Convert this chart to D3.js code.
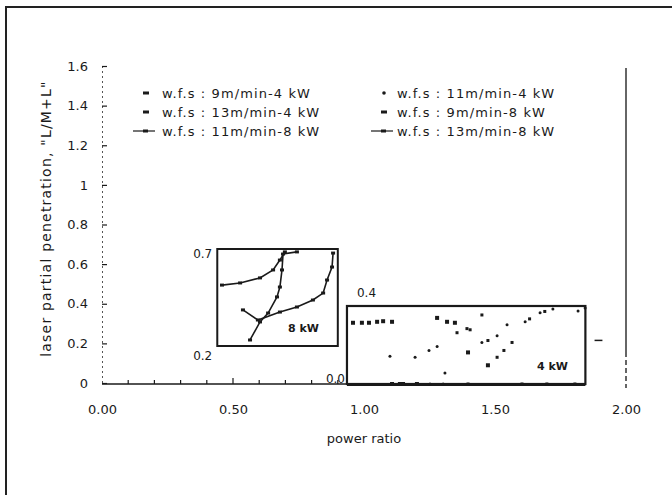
<!DOCTYPE html>
<html>
<head>
<meta charset="utf-8">
<script src="https://cdn.jsdelivr.net/npm/d3@7"></script>
<style>
  body { margin: 0; background: #fff; }
  svg { display: block; }
  text { font-family: "DejaVu Sans", sans-serif; fill: #1a1a1a; }
</style>
</head>
<body>
<svg id="chart" width="672" height="495"></svg>
<script>
// axis ticks
const yTicks = [0, 0.2, 0.4, 0.6, 0.8, 1, 1.2, 1.4, 1.6];
const yTickLabels = ["0", "0.2", "0.4", "0.6", "0.8", "1", "1.2", "1.4", "1.6"];
const xTicks = [0, 0.5, 1, 1.5, 2];
const xTickLabels = ["0.00", "0.50", "1.00", "1.50", "2.00"];

const legendLabels = [
    "w.f.s : 9m/min-4 kW", "w.f.s : 11m/min-4 kW",
    "w.f.s : 13m/min-4 kW", "w.f.s : 9m/min-8 kW",
    "w.f.s : 11m/min-8 kW", "w.f.s : 13m/min-8 kW"
];

// inset ranges (power ratio / penetration)
const inset8X = [0.44, 0.90];
const inset8Y = [0.2, 0.7];
const inset4X = [0.935, 1.845];
const inset4Y = [0, 0.4];

// 4 kW series: [power ratio, L/(M+L)]
const wfs9_4kW = [
    [0.958, 0.314], [0.992, 0.314], [1.019, 0.314], [1.050, 0.319], [1.073, 0.322],
    [1.107, 0.319], [1.279, 0.339], [1.317, 0.319], [1.347, 0.314], [1.397, 0.162],
    [1.473, 0.096], [1.107, 0.0], [1.137, 0.0], [1.149, 0.0], [1.202, 0.0]
];
const wfs11_4kW = [
    [1.099, 0.142], [1.195, 0.137], [1.248, 0.172], [1.279, 0.192], [1.450, 0.213],
    [1.508, 0.248], [1.546, 0.304], [1.615, 0.319], [1.672, 0.365], [1.721, 0.385],
    [1.817, 0.375], [1.844, 0.390], [1.309, 0.056], [1.252, 0.0], [1.302, 0.0]
];
const wfs13_4kW = [
    [1.355, 0.263], [1.393, 0.284], [1.405, 0.278], [1.473, 0.223], [1.508, 0.137],
    [1.534, 0.172], [1.565, 0.213], [1.450, 0.354], [1.632, 0.334], [1.690, 0.372],
    [1.397, 0.0], [1.603, 0.0], [1.698, 0.0], [1.805, 0.0]
];

// 8 kW series
const wfs9_8kW = [
    [0.458, 0.514], [0.527, 0.525], [0.603, 0.551], [0.653, 0.592], [0.679, 0.643], [0.698, 0.685]
];
const wfs11_8kW = [
    [0.565, 0.231], [0.603, 0.324], [0.634, 0.370], [0.668, 0.453], [0.679, 0.504],
    [0.687, 0.592], [0.691, 0.674], [0.744, 0.685]
];
const wfs13_8kW = [
    [0.538, 0.386], [0.595, 0.334], [0.679, 0.375], [0.744, 0.401], [0.805, 0.437],
    [0.844, 0.473], [0.859, 0.540], [0.878, 0.607], [0.882, 0.679]
];

const svg = d3.select("#chart");
const ink = "#1a1a1a";

const x = d3.scaleLinear().domain([0, 2]).range([102, 626]);
const y = d3.scaleLinear().domain([0, 1.6]).range([383, 66]);

// outer frame (only top and left edge are in the picture)
svg.append("path")
    .attr("d", "M6,495 V7 H672")
    .attr("fill", "none")
    .attr("stroke", "#222")
    .attr("stroke-width", 2);

// y axis
const yAxis = svg.append("g")
    .attr("transform", `translate(${x(0)},0)`)
    .call(d3.axisLeft(y).tickValues(yTicks)
        .tickFormat((d, i) => yTickLabels[i])
        .tickSize(-5).tickPadding(14));
yAxis.select(".domain").attr("stroke", "#555").attr("stroke-dasharray", "2,3");
yAxis.selectAll(".tick line").attr("stroke", ink).attr("stroke-width", 1.2);
yAxis.selectAll(".tick text")
    .style("font-family", "DejaVu Sans, sans-serif")
    .style("font-size", "13px").attr("fill", ink);

// x axis labels
const xAxis = svg.append("g")
    .attr("transform", `translate(0,${y(0)})`)
    .call(d3.axisBottom(x).tickValues(xTicks)
        .tickFormat((d, i) => xTickLabels[i])
        .tickSize(0).tickPadding(22));
xAxis.select(".domain").remove();
xAxis.selectAll(".tick text")
    .style("font-family", "DejaVu Sans, sans-serif")
    .style("font-size", "13px").attr("fill", ink);

// baseline up to the 4 kW inset and its minor ticks
svg.append("line")
    .attr("x1", x(0)).attr("x2", x(inset4X[0]))
    .attr("y1", y(0) + 1).attr("y2", y(0) + 1)
    .attr("stroke", ink).attr("stroke-width", 1.5);
svg.append("g").selectAll("line")
    .data(x.ticks(20).filter(d => d > 0 && d < inset4X[0]))
    .join("line")
    .attr("x1", d => x(d)).attr("x2", d => x(d))
    .attr("y1", y(0) + 1).attr("y2", d => y(0) + (d === 0.5 ? -5 : -3))
    .attr("stroke", ink).attr("stroke-width", 1.2);

// right-hand frame line at 2.00
svg.append("line")
    .attr("x1", x(2)).attr("x2", x(2))
    .attr("y1", y(1.6) + 2).attr("y2", 352)
    .attr("stroke", "#333").attr("stroke-width", 1.5);
svg.append("line")
    .attr("x1", x(2)).attr("x2", x(2))
    .attr("y1", 352).attr("y2", 388)
    .attr("stroke", "#333").attr("stroke-width", 1.5)
    .attr("stroke-dasharray", "5,3");
svg.append("line")
    .attr("x1", x(1.88)).attr("x2", x(1.91))
    .attr("y1", y(0.215)).attr("y2", y(0.215))
    .attr("stroke", ink).attr("stroke-width", 1.5);

// axis titles
svg.append("text")
    .attr("transform", `translate(51,${y(0.83)}) rotate(-90)`)
    .attr("text-anchor", "middle")
    .style("font-size", "14px")
    .style("letter-spacing", "1.2px")
    .text("laser partial penetration, \"L/M+L\"");
svg.append("text")
    .attr("x", x(1)).attr("y", 443)
    .attr("text-anchor", "middle")
    .style("font-size", "13px")
    .text("power ratio");

// legend
const legendRows = [93, 112, 131];
const legendCols = [{ mark: 146, text: 162 }, { mark: 384, text: 397 }];
const legend = svg.append("g");
legendLabels.forEach((label, i) => {
    const col = legendCols[i % 2];
    const ry = legendRows[Math.floor(i / 2)];
    const g = legend.append("g");
    if (i < 4) {
        if (i === 1) {
            g.append("circle").attr("cx", col.mark).attr("cy", ry).attr("r", 1.8).attr("fill", ink);
        } else {
            g.append("rect").attr("x", col.mark - 3).attr("y", ry - 1.5)
                .attr("width", 6).attr("height", 3).attr("fill", ink);
        }
    } else {
        g.append("line").attr("x1", col.mark - 13).attr("x2", col.mark + 9)
            .attr("y1", ry).attr("y2", ry).attr("stroke", ink).attr("stroke-width", 1.2);
        g.append("rect").attr("x", col.mark - 3).attr("y", ry - 1.5)
            .attr("width", 5).attr("height", 3).attr("fill", ink);
    }
    g.append("text").attr("x", col.text).attr("y", ry + 5)
        .style("font-size", "13px")
        .style("letter-spacing", "1.1px")
        .text(label);
});

// ---- 8 kW inset ----
const x8 = x;
const y8 = d3.scaleLinear().domain(inset8Y).range([346, 249]);
svg.append("rect")
    .attr("x", x8(inset8X[0])).attr("y", y8(inset8Y[1]))
    .attr("width", x8(inset8X[1]) - x8(inset8X[0]))
    .attr("height", y8(inset8Y[0]) - y8(inset8Y[1]))
    .attr("fill", "#fff").attr("stroke", ink).attr("stroke-width", 2);
svg.append("text").attr("x", x8(inset8X[0]) - 5).attr("y", y8(inset8Y[1]) + 9)
    .attr("text-anchor", "end").style("font-size", "12px").text("0.7");
svg.append("text").attr("x", x8(inset8X[0]) - 5).attr("y", y8(inset8Y[0]) + 14)
    .attr("text-anchor", "end").style("font-size", "12px").text("0.2");
svg.append("text").attr("x", 288).attr("y", 332)
    .style("font-size", "11px").style("font-weight", "bold").text("8 kW");

const line8 = d3.line().x(d => x8(d[0])).y(d => y8(d[1]));
[wfs9_8kW, wfs11_8kW, wfs13_8kW].forEach(series => {
    svg.append("path").datum(series)
        .attr("d", line8).attr("fill", "none")
        .attr("stroke", ink).attr("stroke-width", 1.6);
    svg.append("g").selectAll("rect").data(series).join("rect")
        .attr("x", d => x8(d[0]) - 2).attr("y", d => y8(d[1]) - 1.5)
        .attr("width", 4).attr("height", 3).attr("fill", ink);
});

// ---- 4 kW inset ----
const y4 = d3.scaleLinear().domain(inset4Y).range([384, 306]);
svg.append("rect")
    .attr("x", x(inset4X[0])).attr("y", y4(inset4Y[1]))
    .attr("width", x(inset4X[1]) - x(inset4X[0]))
    .attr("height", y4(inset4Y[0]) - y4(inset4Y[1]))
    .attr("fill", "#fff").attr("stroke", ink).attr("stroke-width", 2.2);
svg.append("line")
    .attr("x1", x(inset4X[0])).attr("x2", x(inset4X[1]))
    .attr("y1", y4(0) + 1).attr("y2", y4(0) + 1)
    .attr("stroke", ink).attr("stroke-width", 2);
svg.append("text").attr("x", x(inset4X[0]) + 10).attr("y", y4(inset4Y[1]) - 9)
    .style("font-size", "12px").text("0.4");
svg.append("text").attr("x", x(inset4X[0]) - 2).attr("y", y4(inset4Y[0]) - 1)
    .attr("text-anchor", "end").style("font-size", "12px").text("0.0");
svg.append("text").attr("x", 537).attr("y", 370)
    .style("font-size", "11px").style("font-weight", "bold").text("4 kW");

svg.append("g").selectAll("rect").data(wfs9_4kW).join("rect")
    .attr("x", d => x(d[0]) - 2).attr("y", d => y4(d[1]) - 2)
    .attr("width", 4).attr("height", 4).attr("fill", ink);
svg.append("g").selectAll("circle").data(wfs11_4kW).join("circle")
    .attr("cx", d => x(d[0])).attr("cy", d => y4(d[1]))
    .attr("r", 1.5).attr("fill", ink);
svg.append("g").selectAll("rect").data(wfs13_4kW).join("rect")
    .attr("x", d => x(d[0]) - 1.5).attr("y", d => y4(d[1]) - 1.5)
    .attr("width", 3).attr("height", 3).attr("fill", ink);
</script>
</body>
</html>
